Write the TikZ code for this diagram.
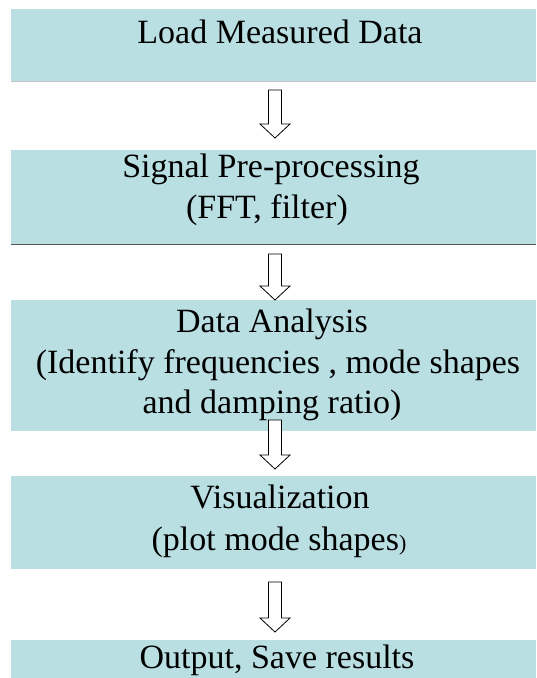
\documentclass[tikz,border=0pt]{standalone}
\usepackage{fontspec}
\setmainfont{Liberation Serif}
\usetikzlibrary{calc}
\definecolor{boxfill}{RGB}{185,223,227}
\newcommand\blockarrow[2]{%
  \draw[barrow] ($(#1)+(-6.5,0)$) -- ($(#2)+(-6.5,-14)$) -- ($(#2)+(-15,-14)$) -- (#2)
    -- ($(#2)+(15,-14)$) -- ($(#2)+(6.5,-14)$) -- ($(#1)+(6.5,0)$) -- cycle;}
\begin{document}
\begin{tikzpicture}[x=1pt,y=-1pt,
  box/.style={fill=boxfill, draw=none, anchor=north west, inner sep=0pt, outer sep=0pt},
  txt/.style={anchor=base, inner sep=0pt, font=\fontsize{34}{41}\selectfont},
  barrow/.style={draw=black, fill=white, line width=0.8pt, line join=miter}]
\useasboundingbox (0,0) rectangle (536,678);
% boxes
\node[box, minimum width=525pt, minimum height=72pt]  (b1) at (11,9)   {};
\node[box, minimum width=525pt, minimum height=94pt]  (b2) at (11,150) {};
\node[box, minimum width=525pt, minimum height=131pt] (b3) at (11,300) {};
\node[box, minimum width=525pt, minimum height=93pt]  (b4) at (11,476) {};
\node[box, minimum width=525pt, minimum height=45pt]  (b5) at (11,640) {};
\draw[gray!45, line width=0.8pt] (b1.south west) -- (b1.south east);
\draw[black!65, line width=0.9pt] (b2.south west) -- (b2.south east);
% texts
\node[txt] (t1)  at (280,43)  {Load Measured Data};
\node[txt] (t2a) at (271,177) {Signal Pre-processing};
\node[txt] (t2b) at (267,218) {(FFT, filter)};
\node[txt] (t3a) at (272,332) {Data Analysis};
\node[txt] (t3b) at (278,373) {(Identify frequencies , mode shapes};
\node[txt] (t3c) at (272,413) {and damping ratio)};
\node[txt] (t4a) at (280,508) {Visualization};
\node[txt] (t4b) at (279,550) {(plot mode shapes{\fontsize{22}{22}\selectfont)}};
\node[txt] (t5)  at (277,668) {Output, Save results};
% arrows
\coordinate (a1s) at (275,90);  \coordinate (a1e) at (275,138);
\coordinate (a2s) at (275,254); \coordinate (a2e) at (275,300);
\coordinate (a3s) at (275,420); \coordinate (a3e) at (275,469);
\coordinate (a4s) at (275,582); \coordinate (a4e) at (275,632);
\blockarrow{a1s}{a1e}
\blockarrow{a2s}{a2e}
\blockarrow{a3s}{a3e}
\blockarrow{a4s}{a4e}
\end{tikzpicture}
\end{document}
